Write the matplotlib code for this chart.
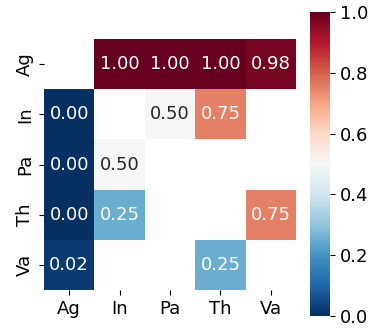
import numpy as np
import matplotlib
matplotlib.use("Agg")
import matplotlib.pyplot as plt
import seaborn as sns

labels = ["Ag", "In", "Pa", "Th", "Va"]
nan = np.nan
values = [
    [nan, 1.00, 1.00, 1.00, 0.98],
    [0.00, nan, 0.50, 0.75, nan],
    [0.00, 0.50, nan, nan, nan],
    [0.00, 0.25, nan, nan, 0.75],
    [0.02, nan, nan, 0.25, nan],
]

plt.rcParams['font.size'] = 13
fig = plt.figure(figsize=(3.7, 3.29), dpi=100)
ax = fig.add_axes([44 / 370, 39 / 329, 252 / 370, 251 / 329])
cax = fig.add_axes([310 / 370, 13 / 329, 20 / 370, 304 / 329])

sns.heatmap(np.array(values), ax=ax, cbar_ax=cax, cmap="RdBu_r", vmin=0, vmax=1,
            annot=True, fmt=".2f", annot_kws={"size": 13},
            xticklabels=labels, yticklabels=labels)
ax.tick_params(labelsize=13)
cax.tick_params(labelsize=13)
cax.set_yticks([0, 0.2, 0.4, 0.6, 0.8, 1.0])
cax.set_yticklabels(["0.0", "0.2", "0.4", "0.6", "0.8", "1.0"])

fig.savefig("out.png", dpi=100)
